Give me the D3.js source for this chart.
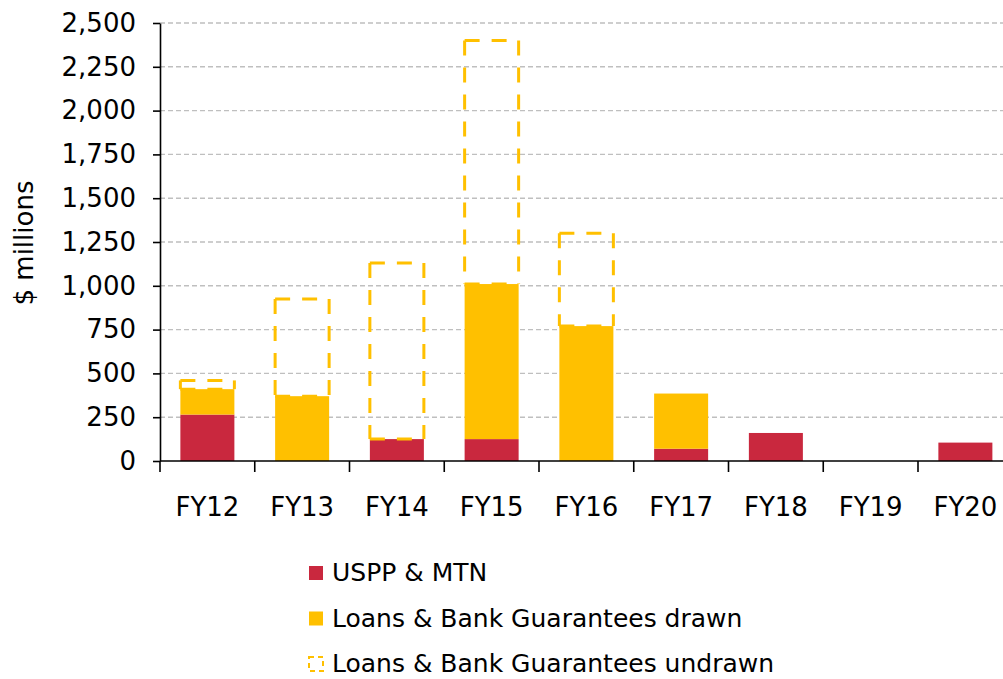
<!DOCTYPE html>
<html>
<head>
<meta charset="utf-8">
<script src="https://cdn.jsdelivr.net/npm/d3@7"></script>
<style>
  body { margin: 0; background: #fff; }
  text { font-family: "DejaVu Sans", sans-serif; fill: #000; }
</style>
</head>
<body>
<div id="chart"></div>
<script>
// data ($ millions)
const categories = ["FY12", "FY13", "FY14", "FY15", "FY16", "FY17", "FY18", "FY19", "FY20"];
const uspp = [265, 0, 125, 125, 0, 70, 160, 0, 105];
const drawn = [145, 370, 0, 885, 770, 315, 0, 0, 0];
const undrawn = [50, 555, 1005, 1390, 530, 0, 0, 0, 0];
const yTicks = [0, 250, 500, 750, 1000, 1250, 1500, 1750, 2000, 2250, 2500];
const seriesNames = ["USPP & MTN", "Loans & Bank Guarantees drawn", "Loans & Bank Guarantees undrawn"];

const red = "#C9283E",
      yellow = "#FFC000";

const width = 1003,
      height = 679;

const plot = { left: 160, top: 23, bottom: 461 };

const svg = d3.select("#chart").append("svg")
    .attr("width", width)
    .attr("height", height);

// scales
const xScale = d3.scaleBand()
    .domain(categories)
    .range([plot.left, plot.left + 9 * 94.75])
    .paddingInner(0.43)
    .paddingOuter(0.215);

const yScale = d3.scaleLinear()
    .domain([0, 2500])
    .range([plot.bottom, plot.top]);

// gridlines
svg.append("g")
    .selectAll("line")
    .data(yTicks.filter(d => d > 0))
    .enter().append("line")
    .attr("x1", plot.left)
    .attr("x2", width)
    .attr("y1", d => yScale(d))
    .attr("y2", d => yScale(d))
    .style("stroke", "#BFBFBF")
    .style("stroke-width", 1.4)
    .style("stroke-dasharray", "5,3");

const rows = categories.map((c, i) => ({
    cat: c,
    uspp: uspp[i],
    drawn: drawn[i],
    undrawn: undrawn[i]
}));

// stacked solid bars
svg.append("g")
    .selectAll("rect")
    .data(rows.filter(d => d.uspp > 0))
    .enter().append("rect")
    .attr("x", d => xScale(d.cat))
    .attr("width", xScale.bandwidth())
    .attr("y", d => yScale(d.uspp))
    .attr("height", d => yScale(0) - yScale(d.uspp))
    .style("fill", red);

svg.append("g")
    .selectAll("rect")
    .data(rows.filter(d => d.drawn > 0))
    .enter().append("rect")
    .attr("x", d => xScale(d.cat))
    .attr("width", xScale.bandwidth())
    .attr("y", d => yScale(d.uspp + d.drawn))
    .attr("height", d => yScale(d.uspp) - yScale(d.uspp + d.drawn))
    .style("fill", yellow);

// undrawn: dashed outline, each side starts its dash at the corner
const box = svg.append("g")
    .selectAll("g")
    .data(rows.filter(d => d.undrawn > 0))
    .enter().append("g");

const sides = d => {
    const x0 = xScale(d.cat),
          x1 = x0 + xScale.bandwidth(),
          y1 = yScale(d.uspp + d.drawn),
          y0 = yScale(d.uspp + d.drawn + d.undrawn);
    return [
        [x0, y0, x1, y0],
        [x0, y0, x0, y1],
        [x1, y0, x1, y1],
        [x0, y1, x1, y1]
    ];
};

box.selectAll("line")
    .data(d => sides(d))
    .enter().append("line")
    .attr("x1", s => s[0])
    .attr("y1", s => s[1])
    .attr("x2", s => s[2])
    .attr("y2", s => s[3])
    .style("stroke", yellow)
    .style("stroke-width", 3)
    .style("stroke-dasharray", "15,12");

// y-axis
const yAxis = svg.append("g")
    .attr("transform", `translate(${plot.left}, 0)`)
    .call(d3.axisLeft(yScale)
        .tickValues(yTicks)
        .tickFormat(d3.format(","))
        .tickSizeInner(7)
        .tickSizeOuter(0)
        .tickPadding(17));
yAxis.select(".domain").style("stroke", "#000").style("stroke-width", 1.6);
yAxis.selectAll(".tick line").style("stroke", "#000").style("stroke-width", 1.6);
yAxis.selectAll("text")
    .style("font-family", "DejaVu Sans")
    .style("font-size", "26px")
    .attr("fill", "#000");

// x-axis
const xAxis = svg.append("g")
    .attr("transform", `translate(0, ${plot.bottom})`)
    .call(d3.axisBottom(xScale)
        .tickSize(0)
        .tickPadding(37));
xAxis.select(".domain").remove();
xAxis.selectAll("text")
    .style("font-family", "DejaVu Sans")
    .style("font-size", "26px")
    .attr("fill", "#000");

const step = xScale.step();
const bounds = categories.map(c => xScale(c) - (step - xScale.bandwidth()) / 2);
bounds.push(bounds[bounds.length - 1] + step);

svg.append("line")
    .attr("x1", plot.left)
    .attr("x2", width)
    .attr("y1", plot.bottom)
    .attr("y2", plot.bottom)
    .style("stroke", "#000")
    .style("stroke-width", 1.6);

svg.append("g")
    .selectAll("line")
    .data(bounds)
    .enter().append("line")
    .attr("x1", d => d)
    .attr("x2", d => d)
    .attr("y1", plot.bottom)
    .attr("y2", plot.bottom + 11)
    .style("stroke", "#000")
    .style("stroke-width", 1.6);

// y-axis title
svg.append("text")
    .attr("transform", "translate(33, 243) rotate(-90)")
    .style("text-anchor", "middle")
    .style("font-size", "26px")
    .text("$ millions");

// legend
const legend = svg.selectAll(".legend")
    .data(seriesNames)
    .enter().append("g")
    .attr("class", "legend")
    .attr("transform", (d, i) => `translate(309, ${573 + i * 45.5})`);

legend.filter((d, i) => i < 2)
    .append("rect")
    .attr("x", 0)
    .attr("y", -7)
    .attr("width", 14)
    .attr("height", 14)
    .style("fill", (d, i) => i === 0 ? red : yellow);

legend.filter((d, i) => i === 2)
    .append("rect")
    .attr("x", 0)
    .attr("y", -7)
    .attr("width", 14)
    .attr("height", 14)
    .style("fill", "none")
    .style("stroke", yellow)
    .style("stroke-width", 2)
    .style("stroke-dasharray", "5,4");

legend.append("text")
    .attr("x", 23)
    .attr("y", 0)
    .attr("dy", "0.33em")
    .style("font-size", "25px")
    .text(d => d);
</script>
</body>
</html>
